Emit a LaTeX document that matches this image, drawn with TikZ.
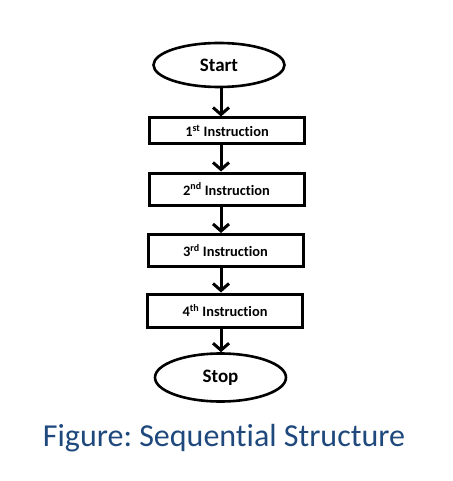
\documentclass[tikz,border=0pt]{standalone}
\usepackage{fontspec}
\setmainfont{Carlito}[Ligatures=NoCommon]
\usetikzlibrary{shapes.geometric,arrows.meta}
\definecolor{capblue}{RGB}{31,73,125}
\frenchspacing
\tikzset{
  term/.style={ellipse,draw,line width=2.6pt,minimum width=131pt,minimum height=44pt,
    inner sep=0pt,font=\fontsize{19}{21}\selectfont\bfseries},
  instr/.style={rectangle,draw,line width=3pt,minimum width=155pt,minimum height=32pt,
    inner sep=0pt,font=\fontsize{14.4}{16}\selectfont\bfseries},
  flow/.style={line width=3pt,-{Straight Barb[length=7pt,width=16pt]}}
}
\begin{document}
\begin{tikzpicture}[x=1pt,y=-1pt]
        \useasboundingbox (0,0) rectangle (452,481);
        % Terminals
        \node[term] (start) at (219,65) {Start};
        \node[term,minimum height=48pt] (stop) at (220.5,377.5) {Stop};
        % Instructions
        \node[instr,minimum height=26pt] (ins1) at (227,131) {1\textsuperscript{st} Instruction};
        \node[instr] (ins2) at (226.5,189) {2\textsuperscript{nd} Instruction};
        \node[instr] (ins3) at (225.5,250.5) {3\textsuperscript{rd} Instruction};
        \node[instr,minimum height=33pt] (ins4) at (225,310.5) {4\textsuperscript{th} Instruction};
        % Arrows
        \draw[flow] (start.south) ++(2,0) coordinate (s0) -- (s0 |- ins1.north);
        \draw[flow] (ins1.south -| s0) -- (ins2.north -| s0);
        \draw[flow] (ins2.south -| s0) -- (ins3.north -| s0);
        \draw[flow] (ins3.south -| s0) -- (ins4.north -| s0);
        \draw[flow] (ins4.south -| s0) -- (s0 |- stop.north);
        % Caption
        \node[anchor=base,text=capblue,font=\fontsize{32}{38}\selectfont] (cap) at (224,446) {Figure: Sequential Structure};
    \end{tikzpicture}
\end{document}
